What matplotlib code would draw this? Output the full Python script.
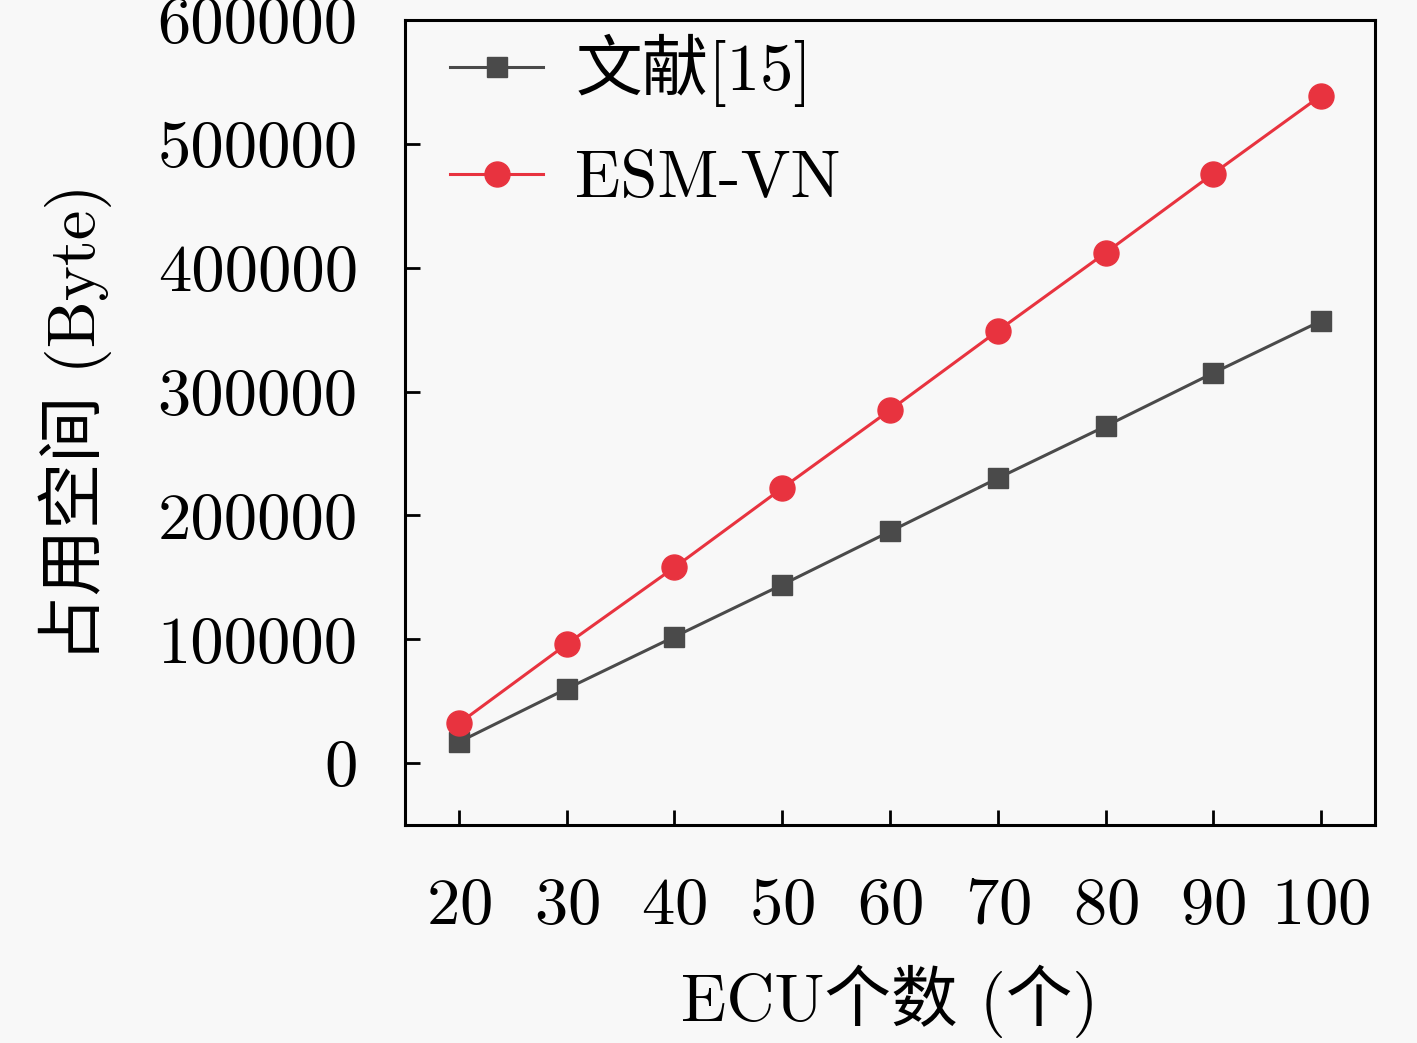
import matplotlib
matplotlib.use('Agg')
import matplotlib.pyplot as plt

plt.rcParams['font.family'] = ['cmr10', 'Noto Sans CJK SC']
plt.rcParams['axes.formatter.use_mathtext'] = True

ecu_counts = [20, 30, 40, 50, 60, 70, 80, 90, 100]
ref15_space = [17000, 60000, 102000, 144000, 187000, 230000, 272000, 315000, 357000]
esm_vn_space = [32000, 96000, 158000, 222000, 285000, 349000, 412000, 476000, 539000]
y_ticks = [0, 100000, 200000, 300000, 400000, 500000, 600000]

bg = '#f8f8f8'
fig = plt.figure(figsize=(14.17, 10.43), dpi=100, facecolor=bg)
ax = fig.add_axes([405 / 1417, 218 / 1043, 970 / 1417, 805 / 1043], facecolor=bg)

ax.plot(ecu_counts, ref15_space, color='#4a4a4a', lw=2.2, marker='s',
        markersize=15, label='文献[15]')
ax.plot(ecu_counts, esm_vn_space, color='#e8333f', lw=2.2, marker='o',
        markersize=18, label='ESM-VN')

ax.set_xlim(15, 105)
ax.set_ylim(-50000, 600000)
ax.set_xticks(ecu_counts)
ax.set_yticks(y_ticks)
ax.set_yticklabels([str(v) for v in y_ticks])
ax.tick_params(direction='in', length=11, width=2, labelsize=48)
ax.tick_params(axis='x', pad=38)
ax.tick_params(axis='y', pad=34)
for s in ax.spines.values():
    s.set_linewidth(2.2)

ax.set_xlabel('ECU个数 (个)', fontsize=48, labelpad=20)
ax.set_ylabel('占用空间 (Byte)', fontsize=48, labelpad=33)

ax.legend(loc='upper left', bbox_to_anchor=(0.036, 0.995), frameon=False,
          fontsize=48, handlelength=1.4, borderaxespad=0, borderpad=0.15,
          handletextpad=0.48, labelspacing=0.65)

fig.savefig('out.png', dpi=100, facecolor=bg)
